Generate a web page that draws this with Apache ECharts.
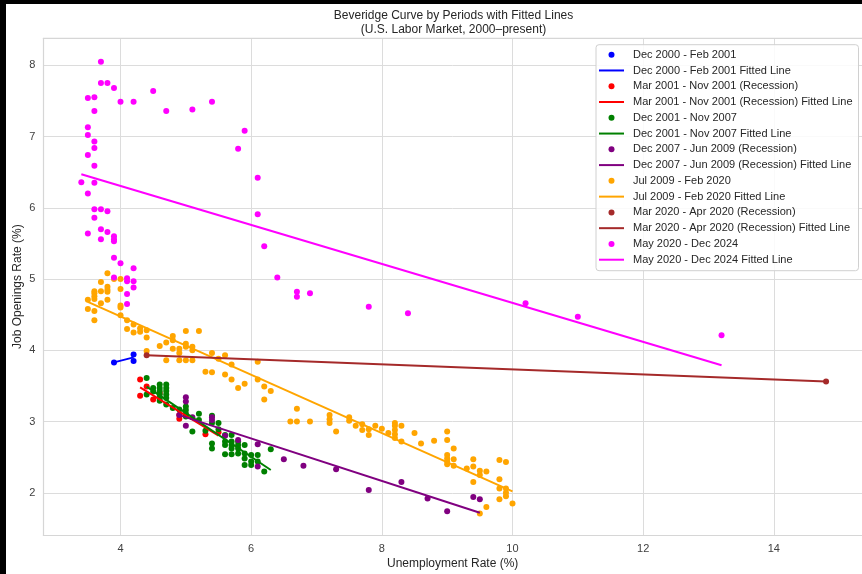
<!DOCTYPE html>
<html>
<head>
<meta charset="utf-8">
<script src="https://cdn.jsdelivr.net/npm/echarts@6/dist/echarts.min.js"></script>
<style>
html,body{margin:0;padding:0;background:#000;width:862px;height:574px;overflow:hidden;}
#c{position:absolute;left:6px;top:4px;width:856px;height:570px;background:#fff;}
</style>
</head>
<body>
<div id="c"></div>
<script>
// ---- Data (unemployment %, job openings %) ----
const periodNames = [
  "Dec 2000 - Feb 2001",
  "Mar 2001 - Nov 2001 (Recession)",
  "Dec 2001 - Nov 2007",
  "Dec 2007 - Jun 2009 (Recession)",
  "Jul 2009 - Feb 2020",
  "Mar 2020 - Apr 2020 (Recession)",
  "May 2020 - Dec 2024"
];
const periodColors = ["#0000ff","#ff0000","#008000","#800080","#ffa500","#a52a2a","#ff00ff"];

const blueData = [[3.9,3.83],[4.2,3.94],[4.2,3.85]];
const redData = [[4.3,3.59],[4.4,3.49],[4.3,3.36],[4.5,3.31],[4.6,3.40],[4.9,3.09],[4.9,3.04],[5.3,2.82],[5.5,2.85]];
const greenData = [
  [4.4,3.61],[4.4,3.38],[4.5,3.47],[4.5,3.42],
  [4.6,3.52],[4.6,3.47],[4.6,3.43],[4.6,3.38],[4.6,3.33],[4.6,3.29],
  [4.7,3.52],[4.7,3.47],[4.7,3.43],[4.7,3.38],[4.7,3.33],[4.7,3.24],
  [4.8,3.19],[4.9,3.17],[5.0,3.21],[5.0,3.16],[5.0,3.11],[5.0,3.07],
  [5.1,2.86],[5.2,3.11],[5.2,3.02],[5.3,2.87],
  [5.4,3.08],[5.4,2.98],[5.4,2.69],[5.4,2.62],[5.5,2.98],[5.5,2.89],
  [5.6,2.81],[5.6,2.72],[5.6,2.67],[5.6,2.54],
  [5.7,2.81],[5.7,2.72],[5.7,2.67],[5.7,2.62],[5.7,2.54],
  [5.8,2.72],[5.8,2.67],[5.8,2.62],[5.8,2.55],
  [5.9,2.67],[5.9,2.55],[5.9,2.48],[5.9,2.39],
  [6.0,2.53],[6.0,2.44],[6.0,2.39],[6.1,2.53],[6.1,2.44],[6.2,2.30],[6.3,2.61]
];
const purpleData = [
  [5.0,3.34],[5.0,3.28],[4.9,3.09],[5.1,3.06],[5.0,2.94],[5.4,3.06],[5.4,3.02],
  [5.6,2.80],[5.8,2.74],[6.1,2.68],[6.1,2.37],[6.5,2.47],[6.8,2.38],[7.3,2.33],
  [7.8,2.04],[8.3,2.15],[8.7,1.92],[9.0,1.74],[9.4,1.94],[9.5,1.91]
];
const orangeData = [
  [3.8,5.08],[3.7,4.96],[3.8,4.89],[3.8,4.85],[3.8,4.82],[3.6,4.83],[3.6,4.80],[3.6,4.76],
  [3.6,4.72],[3.7,4.83],[3.5,4.71],[3.8,4.71],[3.7,4.66],[3.5,4.58],[3.6,4.55],[3.6,4.42],
  [3.9,5.00],[4.0,5.00],[4.0,4.86],[4.0,4.63],[4.0,4.60],[4.0,4.49],[4.1,4.42],[4.1,4.30],
  [4.2,4.36],[4.2,4.25],[4.3,4.31],[4.3,4.26],[4.4,4.28],[4.4,4.18],[4.4,3.99],[4.6,4.06],
  [4.7,4.11],[4.8,4.20],[4.8,4.14],[4.8,4.02],[4.9,4.02],[4.9,3.96],[4.9,3.86],[5.0,4.27],
  [5.0,4.09],[5.0,4.05],[5.0,3.86],[5.1,4.05],[5.1,4.00],[5.1,3.86],[5.2,4.27],[4.7,3.86],
  [5.3,3.70],[5.4,3.96],[5.4,3.69],[5.5,3.88],[5.6,3.93],[5.6,3.66],[5.7,3.80],[5.7,3.59],
  [5.8,3.47],[5.9,3.53],[6.1,3.84],[6.1,3.59],[6.2,3.49],[6.2,3.31],[6.3,3.43],
  [6.7,3.18],[6.6,3.00],[6.7,3.00],[6.9,3.00],
  [7.2,3.09],[7.2,3.03],[7.2,2.98],[7.3,2.86],[7.5,3.06],[7.5,3.01],[7.6,2.94],[7.7,2.96],
  [7.7,2.88],[7.8,2.89],[7.8,2.81],[7.9,2.94],[8.0,2.90],[8.1,2.84],[8.2,2.98],[8.2,2.94],
  [8.2,2.88],[8.2,2.82],[8.2,2.77],[8.3,2.94],[8.3,2.72],[8.5,2.84],[8.6,2.69],[8.8,2.73],
  [9.0,2.86],[9.0,2.74],[9.0,2.53],[9.0,2.48],[9.0,2.44],[9.0,2.40],[9.1,2.62],[9.1,2.47],
  [9.1,2.38],[9.3,2.34],[9.4,2.47],[9.4,2.37],[9.4,2.15],[9.5,2.31],[9.5,2.25],[9.6,2.30],
  [9.5,1.71],[9.6,1.80],[9.8,2.46],[9.8,2.19],[9.8,2.06],[9.8,1.91],[9.9,2.43],[9.9,2.06],
  [9.9,2.00],[9.9,1.95],[10.0,1.85]
];
const brownData = [[4.4,3.93],[14.8,3.56]];
const magentaData = [
  [13.2,4.21],[11.0,4.47],[10.2,4.66],[8.4,4.52],[7.8,4.61],[6.9,4.80],[6.7,4.82],[6.7,4.75],
  [6.4,5.02],[6.2,5.46],[6.1,5.91],[6.1,6.42],[5.8,6.83],[5.9,7.08],[5.4,7.49],[5.1,7.38],
  [4.7,7.36],[4.5,7.64],[4.2,7.49],[4.0,7.49],[3.7,8.05],[3.7,7.75],[3.8,7.75],[3.9,7.68],
  [3.5,7.54],[3.6,7.55],[3.6,7.36],[3.5,7.13],[3.5,7.02],[3.6,6.93],[3.6,6.84],[3.5,6.74],
  [3.6,6.59],[3.4,6.36],[3.6,6.35],[3.5,6.20],[3.6,5.98],[3.7,5.98],[3.8,5.95],[3.6,5.86],
  [3.5,5.64],[3.7,5.70],[3.8,5.66],[3.7,5.56],[3.9,5.60],[3.9,5.56],[3.9,5.53],[3.9,5.30],
  [4.0,5.22],[4.2,5.15],[3.9,5.02],[4.1,5.01],[4.1,4.97],[4.2,4.97],[4.2,4.88],[4.1,4.79],[4.1,4.65]
];
// fitted line endpoints
const blueFit = [[3.9,3.83],[4.2,3.90]];
const redFit = [[4.3,3.48],[5.5,2.80]];
const greenFit = [[4.4,3.49],[6.3,2.32]];
const purpleFit = [[4.9,3.09],[9.5,1.72]];
const orangeFit = [[3.5,4.68],[10.0,2.02]];
const brownFit = [[4.4,3.93],[14.8,3.56]];
const magentaFit = [[3.4,6.47],[13.2,3.79]];

const xTicks = [4,6,8,10,12,14];
const yTicks = [2,3,4,5,6,7,8];

const scatterSets = [blueData, redData, greenData, purpleData, orangeData, brownData, magentaData];
const fitSets = [blueFit, redFit, greenFit, purpleFit, orangeFit, brownFit, magentaFit];

const FONT = "Liberation Sans, Arial, sans-serif";
const series = [];
const legendData = [];
periodNames.forEach((name, i) => {
  series.push({
    name: name, type: 'scatter', data: scatterSets[i], symbol: 'circle', symbolSize: 6,
    itemStyle: {color: periodColors[i], opacity: 1}, emphasis: {disabled: true}, animation: false
  });
  series.push({
    name: name + " Fitted Line", type: 'line', data: fitSets[i], symbol: 'none',
    lineStyle: {color: periodColors[i], width: 2}, itemStyle: {color: periodColors[i]},
    emphasis: {disabled: true}, animation: false
  });
  legendData.push({name: name, icon: 'circle'});
  legendData.push({name: name + " Fitted Line", itemStyle: {opacity: 0}, lineStyle: {color: periodColors[i], width: 2}});
});

const chart = echarts.init(document.getElementById('c'), null, {renderer: 'canvas'});
chart.setOption({
  animation: false,
  backgroundColor: '#ffffff',
  title: {
    text: "Beveridge Curve by Periods with Fitted Lines\n(U.S. Labor Market, 2000\u2013present)",
    left: 447.5, top: 4.5, textAlign: 'center', padding: 0,
    textStyle: {fontFamily: FONT, fontSize: 12, fontWeight: 'normal', color: '#262626', lineHeight: 14}
  },
  grid: {left: 37.3, top: 34.3, right: 0, bottom: 39, containLabel: false, outerBoundsMode: 'none'},
  xAxis: {
    type: 'value', min: 2.818, max: 15.35,
    name: 'Unemployment Rate (%)', nameLocation: 'middle', nameGap: 23, nameMoveOverlap: false,
    nameTextStyle: {fontFamily: FONT, fontSize: 12, color: '#262626'},
    axisLine: {show: true, lineStyle: {color: '#d6d6d6', width: 1.2}},
    axisTick: {show: false, customValues: xTicks},
    axisLabel: {customValues: xTicks, fontFamily: FONT, fontSize: 11, color: '#404040', margin: 8},
    splitLine: {show: true, lineStyle: {color: '#dcdcdc', width: 1}}
  },
  yAxis: {
    type: 'value', min: 1.407, max: 8.379,
    name: 'Job Openings Rate (%)', nameLocation: 'middle', nameGap: 20, nameMoveOverlap: false,
    nameTextStyle: {fontFamily: FONT, fontSize: 12, color: '#262626'},
    axisLine: {show: true, lineStyle: {color: '#d6d6d6', width: 1.2}},
    axisTick: {show: false, customValues: yTicks},
    axisLabel: {customValues: yTicks, fontFamily: FONT, fontSize: 11, color: '#404040', margin: 8},
    splitLine: {show: true, lineStyle: {color: '#dcdcdc', width: 1}}
  },
  legend: {
    orient: 'vertical', left: 590, top: 40.7,
    data: legendData,
    itemWidth: 25, itemHeight: 6, itemGap: 1.77,
    padding: [3, 6, 4, 2],
    backgroundColor: 'rgba(255,255,255,0.85)', borderColor: '#d0d0d0', borderWidth: 1, borderRadius: 3,
    textStyle: {fontFamily: FONT, fontSize: 11, color: '#262626', lineHeight: 14, padding: [0,0,0,4]},
    selectedMode: false
  },
  graphic: [{
    type: 'line', shape: {x1: 37.3, y1: 34.3, x2: 856, y2: 34.3},
    style: {stroke: '#d6d6d6', lineWidth: 1.2}, z: 1
  }],
  series: series
});
</script>
</body>
</html>
